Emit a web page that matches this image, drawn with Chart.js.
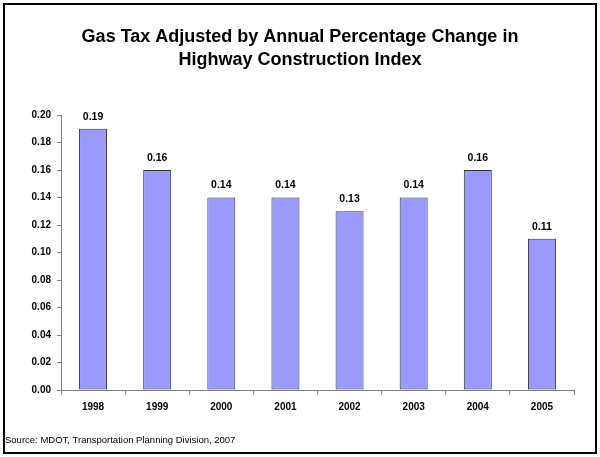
<!DOCTYPE html>
<html>
<head>
<meta charset="utf-8">
<script src="https://cdn.jsdelivr.net/npm/chart.js@4/dist/chart.umd.min.js"></script>
<style>
html,body{margin:0;padding:0;background:#fff;}
#wrap{width:600px;height:457px;position:relative;}
</style>
</head>
<body>
<div id="wrap"><canvas id="c" width="600" height="457"></canvas></div>
<script>
const titleLines = ["Gas Tax Adjusted by Annual Percentage Change in", "Highway Construction Index"];
const sourceText = "Source: MDOT, Transportation Planning Division, 2007";
const categories = ["1998", "1999", "2000", "2001", "2002", "2003", "2004", "2005"];
const values = [0.19, 0.16, 0.14, 0.14, 0.13, 0.14, 0.16, 0.11];
const yTicks = [0, 0.02, 0.04, 0.06, 0.08, 0.10, 0.12, 0.14, 0.16, 0.18, 0.20];

const FONT = "Arial, 'Liberation Sans', Helvetica, sans-serif";

const decorPlugin = {
  id: 'decor',
  beforeDraw(chart) {
    const ctx = chart.ctx;
    ctx.save();
    ctx.fillStyle = '#fff';
    ctx.fillRect(0, 0, chart.width, chart.height);
    ctx.restore();
  },
  afterDraw(chart) {
    const ctx = chart.ctx;
    ctx.save();
    // frame
    ctx.strokeStyle = '#000';
    ctx.lineWidth = 2;
    ctx.strokeRect(4, 4, 592, 449);
    // title
    ctx.fillStyle = '#000';
    ctx.font = "bold 18px " + FONT;
    ctx.textAlign = 'center';
    ctx.textBaseline = 'middle';
    ctx.fillText(titleLines[0], 300, 37);
    ctx.fillText(titleLines[1], 300, 60);
    // source
    ctx.font = "9.5px " + FONT;
    ctx.textAlign = 'left';
    ctx.fillText(sourceText, 5, 440);
    // data labels
    ctx.font = "bold 10.5px " + FONT;
    ctx.textAlign = 'center';
    const meta = chart.getDatasetMeta(0);
    meta.data.forEach((bar, i) => {
      ctx.fillText(values[i].toFixed(2), bar.x, bar.y - 12);
    });
    ctx.restore();
  }
};

new Chart(document.getElementById('c'), {
  type: 'bar',
  data: {
    labels: categories,
    datasets: [{
      data: values,
      backgroundColor: '#9999FF',
      borderColor: '#333340',
      borderWidth: 1,
      borderSkipped: false,
      categoryPercentage: 1.0,
      barPercentage: 0.4366
    }]
  },
  options: {
    responsive: false,
    animation: false,
    devicePixelRatio: 1,
    layout: { padding: { left: 10, right: 26, top: 115, bottom: 37 } },
    plugins: { legend: { display: false }, title: { display: false }, tooltip: { enabled: false } },
    scales: {
      x: {
        grid: { offset: true, drawOnChartArea: false, tickLength: 5, color: '#808080' },
        border: { color: '#808080' },
        ticks: { color: '#000', font: { family: FONT, size: 10, weight: 'bold' }, padding: 6, maxRotation: 0 },
        afterFit(s) { s.height = 30; }
      },
      y: {
        min: 0, max: 0.2,
        grid: { drawOnChartArea: false, tickLength: 4, color: '#808080' },
        border: { color: '#808080' },
        afterBuildTicks(s) { s.ticks = yTicks.map(v => ({ value: v })); },
        ticks: {
          color: '#000', font: { family: FONT, size: 10, weight: 'bold' }, padding: 6,
          callback: (v) => Number(v).toFixed(2)
        },
        afterFit(s) { s.width = 51; }
      }
    }
  },
  plugins: [decorPlugin]
});
</script>
</body>
</html>
